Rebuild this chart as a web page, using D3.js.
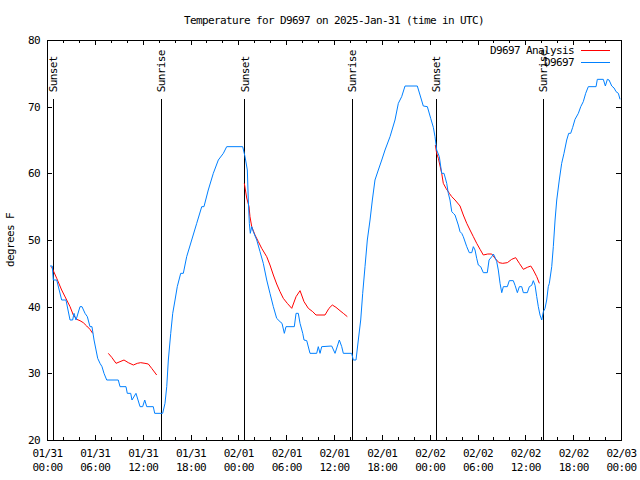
<!DOCTYPE html>
<html><head><meta charset="utf-8">
<script src="https://cdn.jsdelivr.net/npm/d3@7"></script>
<style>
body{margin:0;background:#fff;}
svg text{font-family:"DejaVu Sans Mono","Liberation Mono",monospace;font-size:11px;letter-spacing:-0.62px;fill:#000;}
</style></head><body>
<svg id="chart" width="640" height="480"></svg>
<script>
const title = "Temperature for D9697 on 2025-Jan-31 (time in UTC)";
const yLabel = "degrees F";
const startTime = "2025-01-31T00:00:00Z";
const endTime = "2025-02-03T00:00:00Z";
const yDomain = [20, 80];
const yTicks = [20, 30, 40, 50, 60, 70, 80];

// Observations (hours after start, deg F)
const obsHours = [0.38,0.66,0.79,1.22,1.84,2.38,2.89,3.22,3.39,3.64,4.14,4.39,4.77,5.06,5.39,5.64,5.90,6.36,6.65,6.90,7.15,7.49,8.94,9.16,9.91,10.07,10.50,10.66,11.16,11.67,12.00,12.26,12.51,13.33,13.51,14.51,14.80,15.02,15.22,15.52,15.77,16.06,16.34,16.77,17.10,17.52,18.15,18.78,19.41,19.69,20.23,20.86,21.49,22.12,22.54,24.55,24.84,25.13,25.25,25.38,25.50,25.68,25.88,26.31,26.72,27.13,27.56,27.97,28.39,28.81,29.23,29.48,29.77,29.98,31.02,31.24,31.52,31.74,32.08,32.24,32.58,32.99,33.83,34.03,34.25,34.46,35.71,36.13,36.67,36.97,37.17,38.22,38.42,38.76,39.05,39.35,39.60,39.89,40.18,40.52,40.81,41.14,41.56,41.99,42.40,43.03,43.65,44.07,44.49,44.91,46.45,46.79,47.20,47.71,48.13,48.46,48.67,48.88,49.21,49.39,49.51,49.80,50.14,50.34,50.55,50.77,50.97,51.18,51.59,51.81,52.02,52.22,52.65,52.97,53.28,53.48,53.69,53.90,54.10,54.40,54.73,55.23,55.45,55.79,55.99,56.20,56.41,56.61,56.83,57.04,57.24,57.74,57.99,58.49,58.71,59.00,59.25,59.55,59.75,60.25,60.50,60.80,61.00,61.22,61.43,61.63,61.84,62.06,62.26,62.47,62.68,62.88,63.01,63.31,63.51,63.73,63.94,64.26,64.56,64.85,65.19,65.44,65.69,65.94,66.23,66.65,66.95,67.27,67.57,67.90,68.87,69.03,69.78,70.04,70.29,70.50,70.84,71.13,71.38,71.67,71.88];
const obsTemps = [46.1,46.1,44,44,41,41,38,38,39,38,40,40,39,38.5,37,37,35,32.25,31.5,31,30,29,29,28,28,27,27,26,27,25,25,26,25,25,24,24,25.5,28,32,36,39,41,43,45,45,47.5,50,52.5,55,55,57.5,60,62,63,64,64,62.5,60.5,56,52.5,51,52,51.25,50,48.25,46.5,44,42,40,38.25,37.75,37.5,36,37,37,39,39,37.5,36,35,34.9,33,33,34,33,34,34.1,33,35,34,33,33,32,32,35,38,42,46,50,53,56,59,60.5,62,63.5,65.5,68,70.5,71.5,73.1,73.1,71.75,70.1,70,68.25,66.9,65.5,63.5,62.5,61,60,60,58.5,57,56,54.25,54,53.75,52.25,51.25,51,50.5,49,48.1,48.1,49,48.5,47.25,46.25,46,45.1,45.1,47,47.5,47.9,47.4,46.75,45.5,43.5,42.1,43,43,43.9,43.9,43.2,42.1,43,43,42.1,42.1,43,43.2,43.9,43.2,41.5,40,38.75,38,39.25,39.75,41,43,43.5,46,49,53,56,59,61.5,63,65,66,66,66.9,68.1,69,70,70.75,72,73,73,74.1,74.1,73.1,74.1,74,73.1,72.8,72.25,72,71.1];

// Analysis (hours after start, deg F); null marks a gap
const anaHours = [0.56,0.72,1.22,1.84,2.47,2.89,3.30,3.73,4.14,4.55,4.98,5.39,5.73,6.7,7.69,8.12,8.66,9.16,9.66,10.20,10.83,11.33,11.75,12.29,12.71,13.13,13.76,20.0,24.75,25.05,25.34,25.46,25.68,26.09,26.51,26.93,27.56,27.97,28.39,28.81,29.23,29.64,30.14,30.70,31.24,31.74,32.24,32.78,33.33,33.74,34.87,35.37,35.79,36.25,36.75,37.17,37.67,43.0,48.71,48.88,49.09,49.51,49.71,50.05,50.47,50.77,51.18,51.81,52.22,52.65,53.06,53.48,53.90,54.32,54.73,55.28,55.79,56.20,56.70,57.16,57.74,58.29,58.79,59.25,59.75,60.25,60.68,61.00,61.43,61.76];
const anaTemps = [46,45.6,44.25,42.5,41,40,38.75,38.1,37.9,37.6,37.1,36.6,36,null,33,32.4,31.5,31.75,32,31.6,31.25,31.5,31.6,31.5,31.4,30.75,29.75,null,58.5,56.3,55,53.5,52,50.75,49.75,48.75,47.5,46.25,44.75,43.4,42.25,41.25,40.5,39.75,41.5,42.4,40.75,39.75,39.25,38.75,38.75,39.75,40.25,39.9,39.4,39,38.5,null,64.25,63,62.25,60,58.5,57.75,57,56.5,56,55.1,53.75,52.5,51.5,50.5,49.5,48.6,47.75,47.9,47.9,47.25,46.6,46.5,46.6,47.1,47.35,46.5,45.6,45.9,46.1,45.5,44.5,43.5];

const sunHours = [0.79, 14.31, 24.80, 38.31, 48.83, 62.26];
const sunLabels = ["Sunset","Sunrise","Sunset","Sunrise","Sunset","Sunrise"];
const sunLineTop = 71.1;

const seriesNames = ["D9697 Analysis", "D9697"];
const seriesColors = ["#ff0000", "#0080ff"];

const W = 640, H = 480;
const m = {left: 47, right: 19, top: 40, bottom: 40};
const svg = d3.select("#chart");
const t0 = new Date(startTime).getTime();
const toDate = h => new Date(t0 + h * 3600e3);

const x = d3.scaleUtc().domain([new Date(startTime), new Date(endTime)]).range([m.left, W - m.right]);
const y = d3.scaleLinear().domain(yDomain).range([H - m.bottom, m.top]);

// frame
svg.append("rect").attr("x", m.left).attr("y", m.top)
  .attr("width", W - m.left - m.right).attr("height", H - m.top - m.bottom)
  .attr("fill", "none").attr("stroke", "#000").attr("shape-rendering", "crispEdges");

const majorTicks = d3.utcHour.every(6).range(new Date(startTime), new Date(new Date(endTime).getTime() + 1));
const minorTicks = d3.utcHour.every(2).range(new Date(startTime), new Date(endTime)).filter(d => d.getUTCHours() % 6 !== 0);

function styleAxis(g) {
  g.select(".domain").remove();
  g.attr("font-size", null).attr("font-family", null);
  g.selectAll("line").attr("stroke", "#000").attr("shape-rendering", "crispEdges");
}

// bottom axis major
const fmtDate = d3.utcFormat("%m/%d"), fmtTime = d3.utcFormat("%H:%M");
const gx = svg.append("g").attr("transform", `translate(0,${H - m.bottom})`)
  .call(d3.axisBottom(x).tickValues(majorTicks).tickSize(-5).tickFormat(""));
styleAxis(gx);
gx.selectAll(".tick text").remove();
gx.selectAll(".tick").each(function(d) {
  const g = d3.select(this);
  g.append("text").attr("x", 0).attr("y", 17).attr("text-anchor", "middle").text(fmtDate(d));
  g.append("text").attr("x", 0).attr("y", 31).attr("text-anchor", "middle").text(fmtTime(d));
});
svg.append("g").attr("transform", `translate(0,${H - m.bottom})`)
  .call(d3.axisBottom(x).tickValues(minorTicks).tickSize(-3).tickFormat(""))
  .call(styleAxis);
// top mirror
svg.append("g").attr("transform", `translate(0,${m.top})`)
  .call(d3.axisBottom(x).tickValues(majorTicks).tickSize(5).tickFormat(""))
  .call(styleAxis);
svg.append("g").attr("transform", `translate(0,${m.top})`)
  .call(d3.axisBottom(x).tickValues(minorTicks).tickSize(3).tickFormat(""))
  .call(styleAxis);

// left axis
const gy = svg.append("g").attr("transform", `translate(${m.left},0)`)
  .call(d3.axisLeft(y).tickValues(yTicks).tickSize(-5).tickPadding(7).tickFormat(d3.format("d")));
styleAxis(gy);
gy.selectAll("text").attr("fill", null);
svg.append("g").attr("transform", `translate(${W - m.right},0)`)
  .call(d3.axisLeft(y).tickValues(yTicks).tickSize(5).tickFormat(""))
  .call(styleAxis);

// title and y label
svg.append("text").attr("x", (m.left + W - m.right) / 2).attr("y", 24)
  .attr("text-anchor", "middle").text(title);
svg.append("text").attr("transform", `translate(10,${(m.top + H - m.bottom) / 2}) rotate(-90)`)
  .attr("text-anchor", "middle").attr("dy", "0.35em").text(yLabel);

// sun lines
sunHours.forEach((h, i) => {
  const sx = x(toDate(h));
  svg.append("line").attr("x1", sx).attr("x2", sx).attr("y1", y(sunLineTop)).attr("y2", y(yDomain[0]))
    .attr("stroke", "#000").attr("shape-rendering", "crispEdges");
  svg.append("text").attr("transform", `translate(${sx},${y(sunLineTop) - 7}) rotate(-90)`)
    .attr("text-anchor", "start").attr("dy", "0.35em").text(sunLabels[i]);
});

// series
const obs = obsHours.map((h, i) => ({d: toDate(h), t: obsTemps[i]}));
const ana = anaHours.map((h, i) => ({d: toDate(h), t: anaTemps[i]}));
const line = d3.line().defined(p => p.t != null).x(p => x(p.d)).y(p => y(p.t));

svg.append("path").datum(ana).attr("d", line).attr("fill", "none")
  .attr("stroke", seriesColors[0]).attr("stroke-width", 1);
svg.append("path").datum(obs).attr("d", line).attr("fill", "none")
  .attr("stroke", seriesColors[1]).attr("stroke-width", 1);

// legend
seriesNames.forEach((n, i) => {
  const ly = 50 + i * 12;
  svg.append("text").attr("x", 574).attr("y", ly).attr("dy", "0.35em")
    .attr("text-anchor", "end").text(n);
  svg.append("line").attr("x1", 581).attr("x2", 610).attr("y1", ly).attr("y2", ly)
    .attr("stroke", seriesColors[i]).attr("stroke-width", 1).attr("shape-rendering", "crispEdges");
});
</script>
</body></html>
